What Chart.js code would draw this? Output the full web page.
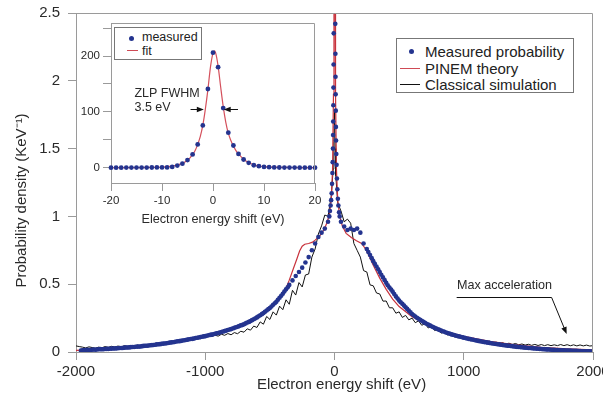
<!DOCTYPE html>
<html>
<head>
<meta charset="utf-8">
<script src="https://cdn.jsdelivr.net/npm/chart.js@4.4.0/dist/chart.umd.min.js"></script>
<style>
  html, body { margin:0; padding:0; background:#fff; }
  #wrap { position:relative; width:603px; height:402px; overflow:hidden; font-family:"Liberation Sans", Arial, sans-serif; color:#222; }
  #main { position:absolute; left:0; top:0; }
  #inset { position:absolute; left:40px; top:0; }
  .lg { position:absolute; background:#fff; border:1px solid #777; box-sizing:border-box; }
  .row { position:absolute; white-space:nowrap; line-height:1; }
  .dot { position:absolute; border-radius:50%; background:#24348f; }
  .ln { position:absolute; height:0; }
</style>
</head>
<body>
<div id="wrap">
  <canvas id="main" width="603" height="402"></canvas>
  <canvas id="inset" width="285" height="235"></canvas>
  <div class="lg" style="left:396px;top:38px;width:178px;height:55px;">
    <div class="dot" style="left:12px;top:10px;width:5px;height:5px;"></div>
    <div class="row" style="left:28px;top:5px;font-size:15px;">Measured probability</div>
    <div class="ln" style="left:3px;top:29px;width:20px;border-top:1.3px solid #cf4a55;"></div>
    <div class="row" style="left:28px;top:22px;font-size:15px;">PINEM theory</div>
    <div class="ln" style="left:3px;top:45px;width:20px;border-top:1.3px solid #111;"></div>
    <div class="row" style="left:28px;top:38px;font-size:15px;">Classical simulation</div>
  </div>
  <div class="lg" style="left:114px;top:27px;width:88px;height:33px;">
    <div class="dot" style="left:14px;top:8px;width:5px;height:5px;"></div>
    <div class="row" style="left:27px;top:3px;font-size:12.5px;">measured</div>
    <div class="ln" style="left:12px;top:22px;width:11px;border-top:1.2px solid #cf4a55;"></div>
    <div class="row" style="left:27px;top:17px;font-size:12.5px;">fit</div>
  </div>
</div>
<script>
// ---------------- DATA ----------------
const mainXTicks = [-2000, -1000, 0, 1000, 2000];
const mainYTicks = [0, 0.5, 1, 1.5, 2, 2.5];
const insetXTicks = [-20, -10, 0, 10, 20];
const insetYTicks = [0, 50, 100, 150, 200, 250];
const insetYLabels = [0, 100, 200];

// Measured probability (energy eV, KeV^-1)
const measured = [
  [-1950,.012],[-1925,.014],[-1900,.014],[-1875,.017],[-1850,.017],[-1825,.020],[-1800,.020],[-1775,.022],
  [-1750,.023],[-1725,.025],[-1700,.026],[-1675,.028],[-1650,.029],[-1625,.032],[-1600,.033],[-1575,.036],
  [-1550,.037],[-1525,.040],[-1500,.041],[-1475,.045],[-1450,.046],[-1425,.050],[-1400,.052],[-1375,.056],
  [-1350,.058],[-1325,.062],[-1300,.064],[-1275,.069],[-1250,.072],[-1225,.077],[-1200,.080],[-1175,.085],
  [-1150,.088],[-1125,.094],[-1100,.097],[-1075,.103],[-1050,.107],[-1025,.113],[-1000,.117],[-975,.123],
  [-950,.128],[-925,.135],[-900,.140],[-875,.148],[-850,.154],[-825,.162],[-800,.169],[-775,.178],
  [-750,.186],[-725,.196],[-700,.205],[-675,.217],[-650,.228],[-625,.242],[-600,.255],[-575,.271],
  [-550,.287],[-525,.306],[-500,.325],[-475,.348],[-450,.370],[-425,.400],[-400,.430],[-375,.462],
  [-350,.495],[-325,.528],[-300,.560],[-275,.590],[-250,.622],[-225,.660],[-200,.700],[-175,.750],
  [-150,.800],[-125,.848],[-100,.880],[-75,.910],[-50,.960],
  [-40,1.00],[-35,1.04],[-30,1.08],[-26,1.12],[-22,1.17],[-19,1.24],[-16,1.32],[-14,1.40],[-12,1.50],
  [-11,1.60],[-10,1.70],[-9,1.82],[-8,1.95],[-7,2.12],[-6,2.35],[-5,2.60],
  [5,2.70],[6,2.42],[7,2.20],[8,2.03],[9,1.90],[10,1.78],[11,1.66],[12,1.56],[14,1.46],[16,1.38],
  [19,1.28],[22,1.20],[26,1.13],[30,1.08],[35,1.03],[40,1.00],[50,.960],[75,.925],
  [100,.900],[125,.910],[150,.900],[175,.910],[200,.880],[225,.800],[250,.760],[275,.715],
  [300,.670],[325,.630],[350,.590],[375,.550],[400,.510],[425,.475],[450,.445],[475,.410],
  [500,.380],[525,.355],[550,.330],[575,.305],[600,.280],[625,.262],[650,.245],[675,.230],
  [700,.215],[725,.202],[750,.190],[775,.178],[800,.168],[825,.158],[850,.149],[875,.140],
  [900,.132],[925,.125],[950,.118],[975,.112],[1000,.106],[1025,.100],[1050,.095],[1075,.090],
  [1100,.085],[1125,.080],[1150,.075],[1175,.071],[1200,.067],[1225,.063],[1250,.059],[1275,.056],
  [1300,.052],[1325,.049],[1350,.046],[1375,.043],[1400,.040],[1425,.037],[1450,.035],[1475,.032],
  [1500,.030],[1525,.028],[1550,.026],[1575,.024],[1600,.022],[1625,.020],[1650,.019],[1675,.017],
  [1700,.016],[1725,.014],[1750,.013],[1775,.012],[1800,.011],[1825,.010],[1850,.009],[1875,.008],
  [1900,.007],[1925,.006],[1950,.005],[1975,.005],[2000,.004]
];
// Additional measured channels between the ones above (dense data band)
const measuredFill = [
  [-1962,.011],[-1938,.014],[-1912,.016],[-1888,.015],[-1862,.018],[-1838,.018],[-1812,.021],[-1788,.020],
  [-1762,.023],[-1738,.024],[-1712,.026],[-1688,.027],[-1662,.029],[-1638,.030],[-1612,.033],[-1588,.034],
  [-1562,.037],[-1538,.039],[-1512,.040],[-1488,.043],[-1462,.046],[-1438,.048],[-1412,.051],[-1388,.054],
  [-1362,.057],[-1338,.060],[-1312,.063],[-1288,.066],[-1262,.071],[-1238,.074],[-1212,.079],[-1188,.082],
  [-1162,.087],[-1138,.091],[-1112,.096],[-1088,.099],[-1062,.105],[-1038,.110],[-1012,.115],[-988,.120],
  [-962,.126],[-938,.131],[-912,.138],[-888,.144],[-862,.151],[-838,.158],[-812,.166],[-788,.173],
  [-762,.182],[-738,.191],[-712,.200],[-688,.211],[-662,.222],[-638,.235],[-612,.248],[-588,.263],
  [-562,.279],[-538,.296],[-512,.316],[-488,.336],[-462,.359],[-438,.385],[-412,.415],[-388,.446],[-362,.478],
  [262,.738],[288,.692],[312,.650],[338,.610],[362,.570],[388,.530],[412,.492],[438,.460],
  [462,.428],[488,.395],[512,.367],[538,.342],[562,.318],[588,.292],[612,.271],[638,.253],
  [662,.238],[688,.222],[712,.208],[738,.196],[762,.184],[788,.173],[812,.163],[838,.153],
  [862,.144],[888,.136],[912,.128],[938,.121],[962,.115],[988,.109],[1012,.103],[1038,.097],
  [1062,.092],[1088,.087],[1112,.082],[1138,.077],[1162,.073],[1188,.069],[1212,.065],[1238,.061],
  [1262,.057],[1288,.054],[1312,.050],[1338,.047],[1362,.044],[1388,.041],[1412,.038],[1438,.036],
  [1462,.033],[1488,.031],[1512,.029],[1538,.027],[1562,.025],[1588,.023],[1612,.021],[1638,.019],
  [1662,.018],[1688,.016],[1712,.015],[1738,.013],[1762,.012],[1788,.011],[1812,.010],[1838,.009],
  [1862,.008],[1888,.007],[1912,.006],[1938,.006],[1962,.005],[1988,.004]
];

// PINEM theory
const pinem = [
  [-2000,.012],[-1800,.018],[-1600,.028],[-1400,.046],[-1200,.074],[-1000,.113],[-900,.138],[-800,.168],
  [-700,.205],[-600,.252],[-500,.318],[-450,.360],[-400,.430],[-380,.460],[-350,.530],[-320,.610],
  [-290,.690],[-270,.745],[-250,.780],[-230,.795],[-200,.800],[-170,.810],[-150,.825],[-120,.850],
  [-100,.875],[-80,.905],[-60,.950],[-40,1.01],[-25,1.12],[-15,1.35],[-8,1.90],[-4,3.0],[0,12],
  [4,3.0],[8,1.90],[15,1.35],[25,1.12],[40,1.00],[60,.930],[90,.875],[130,.845],[170,.820],
  [210,.800],[240,.760],[270,.705],[300,.640],[350,.545],[400,.462],[450,.390],[500,.335],
  [600,.260],[700,.210],[800,.170],[900,.140],[1000,.115],[1200,.079],[1400,.053],[1600,.035],
  [1800,.023],[2000,.015]
];

// Classical simulation
const classical = [
  [-2000,.045],[-1975,.040],[-1950,.036],[-1925,.030],[-1900,.038],[-1875,.033],[-1850,.028],[-1825,.036],
  [-1800,.031],[-1775,.040],[-1750,.034],[-1725,.042],[-1700,.037],[-1675,.044],[-1650,.038],[-1625,.047],
  [-1600,.041],[-1575,.046],[-1550,.043],[-1525,.051],[-1500,.045],[-1475,.054],[-1450,.049],[-1425,.058],
  [-1400,.053],[-1375,.063],[-1350,.057],[-1325,.069],[-1300,.062],[-1275,.075],[-1250,.069],[-1225,.083],
  [-1200,.076],[-1175,.091],[-1150,.085],[-1125,.101],[-1100,.093],[-1075,.109],[-1050,.101],[-1025,.119],
  [-1000,.108],[-975,.128],[-950,.114],[-925,.124],[-900,.117],[-875,.131],[-850,.123],[-825,.136],
  [-800,.127],[-775,.143],[-750,.135],[-725,.153],[-700,.146],[-675,.171],[-650,.161],[-625,.191],
  [-600,.181],[-575,.222],[-550,.205],[-525,.262],[-500,.240],[-475,.296],[-450,.272],[-425,.338],
  [-400,.312],[-375,.385],[-350,.352],[-325,.455],[-300,.420],[-275,.512],[-250,.480],[-225,.568],
  [-200,.575],[-175,.700],[-150,.760],[-125,.870],[-100,.930],[-75,1.01],[-50,1.00],[-25,1.15],
  [-10,1.35],[-5,1.55],[0,1.77],[5,1.50],[10,1.30],[25,1.10],[50,1.04],[75,.960],[100,.980],
  [125,.950],[150,.800],[175,.750],[200,.700],[225,.600],[250,.590],[275,.495],[300,.488],[325,.435],
  [350,.428],[375,.375],[400,.376],[425,.326],[450,.326],[475,.286],[500,.296],[525,.255],[550,.270],
  [575,.237],[600,.250],[625,.216],[650,.230],[675,.197],[700,.210],[725,.177],[750,.190],[775,.158],
  [800,.168],[825,.139],[850,.148],[875,.124],[900,.133],[925,.111],[950,.120],[975,.100],[1000,.106],
  [1025,.092],[1050,.099],[1075,.085],[1100,.091],[1125,.078],[1150,.086],[1175,.072],[1200,.079],
  [1225,.066],[1250,.073],[1275,.062],[1300,.069],[1325,.058],[1350,.065],[1375,.055],[1400,.063],
  [1425,.053],[1450,.059],[1475,.051],[1500,.057],[1525,.049],[1550,.056],[1575,.048],[1600,.055],
  [1625,.047],[1650,.054],[1675,.047],[1700,.053],[1725,.047],[1750,.055],[1775,.047],[1800,.054],
  [1825,.046],[1850,.053],[1875,.045],[1900,.052],[1925,.045],[1950,.051],[1975,.044],[2000,.047]
];

// Inset: zero-loss peak
const insetE = [-20,-19,-18,-17,-16,-15,-14,-13,-12,-11,-10,-9,-8,-7,-6,-5,-4,-3,-2,-1,0,
                1,2,3,4,5,6,7,8,9,10,11,12,13,14,15,16,17,18,19,20];
const insetMeasured = [.4,.4,.4,.5,.5,.5,.6,.6,.7,.8,.9,.8,1.8,4.1,7.6,14,24,42,76,141,206,
                       180,107,63,40,25,15,9,4.7,3,1.8,1.2,.9,.7,.6,.5,.5,.4,.4,.4,.4];
const fit = [
  [-20,.3],[-15,.6],[-12,1.0],[-10,1.6],[-9,2.2],[-8,3.2],[-7,5],[-6,8],[-5.5,10.5],[-5,14],[-4.5,18],
  [-4,24],[-3.5,31],[-3,42],[-2.5,56],[-2,76],[-1.5,105],[-1,140],[-0.5,180],[0,205],[0.25,209],
  [0.5,206],[1,182],[1.5,145],[2,110],[2.5,82],[3,62],[3.5,49],[4,39],[4.5,31],[5,25],[5.5,20],
  [6,15.5],[7,9.5],[8,5.5],[9,3.4],[10,2.2],[12,1.2],[15,.7],[20,.4]
];

// Annotations (data units)
const maxAccel = { text: 'Max acceleration', textE: 947, textP: 0.487, lineP: 0.403, lineE0: 945, lineE1: 1680, headE: 1796, headP: 0.133 };
const fwhm = { line1: 'ZLP FWHM', line2: '3.5 eV', textE: -15.4, text1V: 133, text2V: 107, arrowV: 106,
               leftTail: -4.4, leftHead: -1.8, rightTail: 4.9, rightHead: 2.1 };
const titles = { x: 'Electron energy shift (eV)', y: 'Probability density (KeV\u207B\u00B9)' };

// ---------------- STYLE ----------------
const FONT = '"Liberation Sans", Arial, sans-serif';
const AX = '#9a9a9a';
const TXT = '#2a2a2a';
const BLUE = '#24348f';
const RED = '#c8323c';

function xy(arr) { return arr.map(p => ({ x: p[0], y: p[1] })); }

function arrow(ctx, x1, y1, x2, y2) {
  const a = Math.atan2(y2 - y1, x2 - x1), L = 7, W = 2.8;
  ctx.beginPath(); ctx.moveTo(x1, y1); ctx.lineTo(x2 - Math.cos(a) * L * 0.8, y2 - Math.sin(a) * L * 0.8); ctx.stroke();
  ctx.beginPath();
  ctx.moveTo(x2, y2);
  ctx.lineTo(x2 - L * Math.cos(a) + W * Math.sin(a), y2 - L * Math.sin(a) - W * Math.cos(a));
  ctx.lineTo(x2 - L * Math.cos(a) - W * Math.sin(a), y2 - L * Math.sin(a) + W * Math.cos(a));
  ctx.closePath(); ctx.fill();
}

const framePlugin = {
  id: 'frame',
  beforeDraw(chart, args, opts) {
    if (opts.fill) {
      const a = chart.chartArea; const c = chart.ctx;
      c.save(); c.fillStyle = '#fff'; c.fillRect(a.left, a.top, a.right - a.left, a.bottom - a.top); c.restore();
    }
  },
  afterDraw(chart) {
    const a = chart.chartArea; const c = chart.ctx;
    c.save(); c.strokeStyle = AX; c.lineWidth = 1;
    c.beginPath();
    c.moveTo(Math.round(a.left) + 0.5, Math.round(a.top) + 0.5);
    c.lineTo(Math.round(a.right) - 0.5, Math.round(a.top) + 0.5);
    c.lineTo(Math.round(a.right) - 0.5, Math.round(a.bottom));
    c.stroke(); c.restore();
  }
};

const mainAnno = {
  id: 'mainAnno',
  afterDatasetsDraw(chart) {
    const c = chart.ctx, xs = chart.scales.x, ys = chart.scales.y;
    c.save();
    c.fillStyle = TXT; c.strokeStyle = '#111'; c.lineWidth = 1;
    c.font = '12.6px ' + FONT; c.textBaseline = 'middle'; c.textAlign = 'left';
    c.fillText(maxAccel.text, xs.getPixelForValue(maxAccel.textE), ys.getPixelForValue(maxAccel.textP));
    const yl = Math.round(ys.getPixelForValue(maxAccel.lineP)) + 0.5;
    c.beginPath(); c.moveTo(xs.getPixelForValue(maxAccel.lineE0), yl); c.lineTo(xs.getPixelForValue(maxAccel.lineE1), yl); c.stroke();
    c.fillStyle = '#111';
    arrow(c, xs.getPixelForValue(maxAccel.lineE1), yl, xs.getPixelForValue(maxAccel.headE), ys.getPixelForValue(maxAccel.headP));
    c.restore();
  },
  afterDraw(chart) {
    // axis titles
    const c = chart.ctx, a = chart.chartArea;
    c.save();
    c.fillStyle = TXT; c.font = '15px ' + FONT; c.textAlign = 'center'; c.textBaseline = 'middle';
    c.fillText(titles.x, (a.left + a.right) / 2 + 7, chart.height - 17);
    c.translate(22, (a.top + a.bottom) / 2 + 18);
    c.rotate(-Math.PI / 2);
    c.fillText(titles.y, 0, 0);
    c.restore();
  }
};

const insetAnno = {
  id: 'insetAnno',
  afterDatasetsDraw(chart) {
    const c = chart.ctx, xs = chart.scales.x, ys = chart.scales.y;
    c.save();
    c.fillStyle = TXT; c.font = '12.5px ' + FONT; c.textBaseline = 'middle'; c.textAlign = 'left';
    c.fillText(fwhm.line1, xs.getPixelForValue(fwhm.textE), ys.getPixelForValue(fwhm.text1V));
    c.fillText(fwhm.line2, xs.getPixelForValue(fwhm.textE), ys.getPixelForValue(fwhm.text2V));
    c.strokeStyle = '#111'; c.fillStyle = '#111'; c.lineWidth = 1;
    const ya = Math.round(ys.getPixelForValue(fwhm.arrowV)) + 0.5;
    arrow(c, xs.getPixelForValue(fwhm.leftTail), ya, xs.getPixelForValue(fwhm.leftHead), ya);
    arrow(c, xs.getPixelForValue(fwhm.rightTail), ya, xs.getPixelForValue(fwhm.rightHead), ya);
    c.restore();
  }
};

function axisCommon() {
  return {
    grid: { drawOnChartArea: false, drawTicks: true, tickLength: 8, color: AX, lineWidth: 1 },
    border: { display: true, color: AX, width: 1 },
  };
}

// ---------------- MAIN CHART ----------------
new Chart(document.getElementById('main'), {
  type: 'scatter',
  data: {
    datasets: [
      { label: 'Measured probability', data: xy(measured.concat(measuredFill)), showLine: false, pointRadius: 2.3,
        pointBorderWidth: 0, backgroundColor: BLUE, borderColor: BLUE },
      { label: 'PINEM theory', data: xy(pinem), showLine: true, pointRadius: 0, borderColor: RED,
        borderWidth: 1.2, tension: 0 },
      { label: 'Classical simulation', data: xy(classical), showLine: true, pointRadius: 0, borderColor: '#111',
        borderWidth: 1, tension: 0 }
    ]
  },
  options: {
    responsive: false, animation: false, devicePixelRatio: 1,
    layout: { padding: { left: 0, right: 10, top: 13, bottom: 0 } },
    plugins: { legend: { display: false }, tooltip: { enabled: false }, frame: {} },
    scales: {
      x: Object.assign(axisCommon(), {
        type: 'linear', min: -2000, max: 2000,
        afterBuildTicks: s => { s.ticks = mainXTicks.map(v => ({ value: v })); },
        afterFit: s => { s.height = 50; s.paddingLeft = 0; s.paddingRight = 0; },
        ticks: { font: { family: FONT, size: 15 }, color: TXT, padding: 3, maxRotation: 0, autoSkip: false,
                 callback: v => String(v) }
      }),
      y: Object.assign(axisCommon(), {
        type: 'linear', min: 0, max: 2.5,
        afterBuildTicks: s => { s.ticks = mainYTicks.map(v => ({ value: v })); },
        afterFit: s => { s.width = 76; s.paddingTop = 0; s.paddingBottom = 0; },
        ticks: { font: { family: FONT, size: 15 }, color: TXT, padding: 8, autoSkip: false,
                 callback: v => String(v) }
      })
    }
  },
  plugins: [framePlugin, mainAnno]
});

// ---------------- INSET CHART ----------------
new Chart(document.getElementById('inset'), {
  type: 'scatter',
  data: {
    datasets: [
      { label: 'measured', data: insetE.map((e, i) => ({ x: e, y: insetMeasured[i] })), showLine: false,
        pointRadius: 2.4, pointBorderWidth: 0, backgroundColor: BLUE, borderColor: BLUE, clip: false },
      { label: 'fit', data: xy(fit), showLine: true, pointRadius: 0, borderColor: '#d4505c', borderWidth: 1.2,
        cubicInterpolationMode: 'monotone' }
    ]
  },
  options: {
    responsive: false, animation: false, devicePixelRatio: 1,
    layout: { padding: { left: 0, right: 10, top: 23, bottom: 0 } },
    plugins: { legend: { display: false }, tooltip: { enabled: false }, frame: { fill: true } },
    scales: {
      x: Object.assign(axisCommon(), {
        type: 'linear', min: -20, max: 20,
        afterBuildTicks: s => { s.ticks = insetXTicks.map(v => ({ value: v })); },
        afterFit: s => { s.height = 52; s.paddingLeft = 0; s.paddingRight = 0; },
        ticks: { font: { family: FONT, size: 11.5 }, color: TXT, padding: 3, maxRotation: 0, autoSkip: false,
                 callback: v => String(v) },
        title: { display: true, text: 'Electron energy shift (eV)', font: { family: FONT, size: 12.7 }, color: TXT,
                 padding: { top: 0, bottom: 7.4 } }
      }),
      y: Object.assign(axisCommon(), {
        type: 'linear', min: -27, max: 259,
        afterBuildTicks: s => { s.ticks = insetYTicks.map(v => ({ value: v })); },
        afterFit: s => { s.width = 71; s.paddingTop = 0; s.paddingBottom = 0; },
        ticks: { font: { family: FONT, size: 11.5 }, color: TXT, padding: 3, autoSkip: false,
                 callback: v => (insetYLabels.includes(v) ? String(v) : '') }
      })
    }
  },
  plugins: [framePlugin, insetAnno]
});
</script>
</body>
</html>
